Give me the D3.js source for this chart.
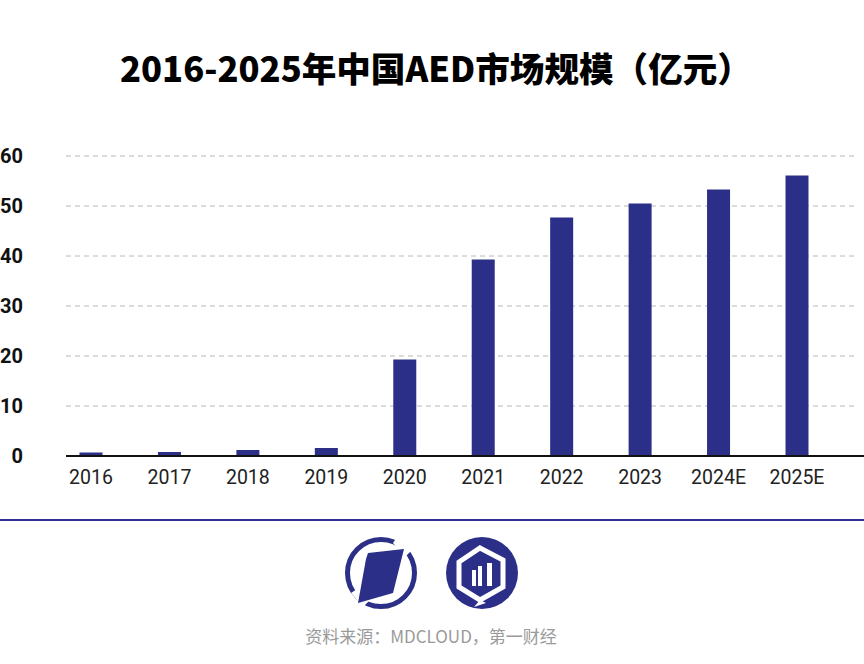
<!DOCTYPE html>
<html>
<head>
<meta charset="utf-8">
<script src="https://cdn.jsdelivr.net/npm/d3@7"></script>
<style>
html,body{margin:0;padding:0;background:#fff;}
svg{display:block;}
</style>
</head>
<body>
<svg id="chart" width="864" height="664"></svg>
<script>
const categories = ["2016","2017","2018","2019","2020","2021","2022","2023","2024E","2025E"];
const values = [0.6, 0.7, 1.1, 1.5, 19.2, 39.2, 47.6, 50.4, 53.2, 56.0];
const yTicks = [0, 10, 20, 30, 40, 50, 60];
const title = "2016-2025年中国AED市场规模（亿元）";
const source = "资料来源：MDCLOUD，第一财经";

const svg = d3.select("#chart");
const barColor = "#2b2f88";

const x = d3.scalePoint().domain(categories).range([91, 797]);
const barW = 23;
const y = d3.scaleLinear().domain([0, 60]).range([455.5, 155.5]);

// title
svg.append("text")
  .attr("x", 120).attr("y", 82)
  .attr("text-anchor", "start")
  .attr("font-family", "'Noto Sans CJK SC', sans-serif")
  .attr("font-weight", 900)
  .attr("font-size", 34.6)
  .attr("fill", "#000")
  .text(title);

// gridlines
const grid = svg.append("g")
  .call(d3.axisLeft(y).tickValues(yTicks.filter(d => d > 0)).tickSize(-(857 - 66)).tickFormat(""))
  .attr("transform", "translate(66,0)");
grid.select(".domain").remove();
grid.selectAll(".tick line")
  .attr("stroke", "#b8b8b8")
  .attr("stroke-width", 1)
  .attr("stroke-dasharray", "5,4");

// y labels
svg.append("g").selectAll("text")
  .data(yTicks).join("text")
  .attr("x", 23).attr("y", d => y(d) + 7)
  .attr("text-anchor", "end")
  .attr("font-family", "Roboto, sans-serif")
  .attr("font-weight", 700)
  .attr("font-size", 20)
  .attr("fill", "#111")
  .text(d => d);

// bars
svg.append("g").selectAll("rect")
  .data(categories).join("rect")
  .attr("x", (d) => x(d) - barW / 2)
  .attr("width", barW)
  .attr("y", (d, i) => y(values[i]))
  .attr("height", (d, i) => y(0) - y(values[i]))
  .attr("fill", barColor);

// x axis line
svg.append("line")
  .attr("x1", 66).attr("x2", 864)
  .attr("y1", y(0) + 0.5).attr("y2", y(0) + 0.5)
  .attr("stroke", "#111").attr("stroke-width", 2);

// x labels
svg.append("g").selectAll("text")
  .data(categories).join("text")
  .attr("x", d => x(d)).attr("y", 484)
  .attr("text-anchor", "middle")
  .attr("font-family", "Roboto, sans-serif")
  .attr("font-weight", 400)
  .attr("font-size", 19.5)
  .attr("fill", "#222")
  .text(d => d);

// bottom separator
svg.append("line")
  .attr("x1", 0).attr("x2", 864)
  .attr("y1", 520).attr("y2", 520)
  .attr("stroke", "#2e3192").attr("stroke-width", 2);

// logo 1
const l1 = svg.append("g").attr("transform", "translate(381,573)");
l1.append("circle").attr("r", 33.5).attr("fill", "none").attr("stroke", barColor).attr("stroke-width", 5);
l1.append("path").attr("d", "M16,-36 L30,-22 L24,-16 L12,-30 Z").attr("fill", "#fff");
l1.append("path").attr("d", "M-30,20 L-18,34 L-12,28 L-24,16 Z").attr("fill", "#fff");
l1.append("path")
  .attr("d", "M-15,-14 L-13,-20 L23,-24 L12,20 L-23,30 Z")
  .attr("fill", barColor);

// logo 2
const l2 = svg.append("g").attr("transform", "translate(482,573)");
l2.append("circle").attr("r", 36).attr("fill", barColor);
l2.append("path")
  .attr("d", "M-2,-25 L21,-13 L21,14 L-2,27 L-23,14 L-23,-11 Z")
  .attr("fill", "none").attr("stroke", "#fff").attr("stroke-width", 5).attr("stroke-linejoin", "miter");
l2.append("path").attr("d", "M-2,27 L-8,34 L4,30 Z").attr("fill", "#fff");
const bars2 = [[-10, -3, 13], [-4, -7, 13], [5, -10, 13]];
l2.selectAll("rect.b").data(bars2).join("rect")
  .attr("x", d => d[0]).attr("y", d => d[1])
  .attr("width", d => (d[0] === 5 ? 5 : 4))
  .attr("height", d => d[2] - d[1])
  .attr("fill", "#fff");

// source
svg.append("text")
  .attr("x", 431).attr("y", 643)
  .attr("text-anchor", "middle")
  .attr("font-family", "'Noto Sans CJK SC', sans-serif")
  .attr("font-size", 17)
  .attr("fill", "#9a9a9a")
  .text(source);
</script>
</body>
</html>
